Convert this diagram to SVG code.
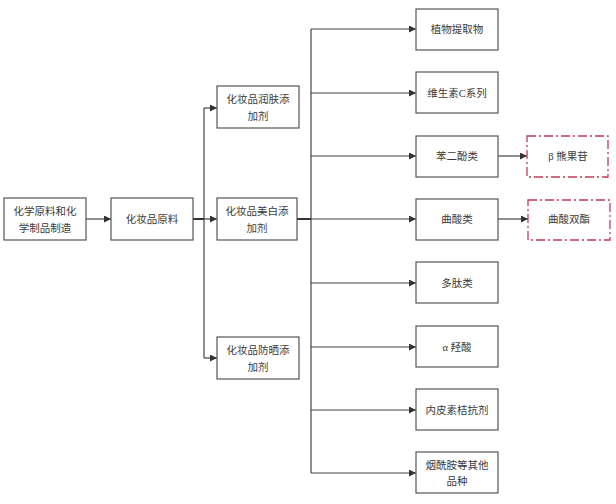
<svg xmlns="http://www.w3.org/2000/svg" width="616" height="504" viewBox="0 0 616 504">
<style>
.box{fill:#fff;stroke:#555;stroke-width:1.2}
.dbox{fill:#fff;stroke:#c23a55;stroke-width:1.3;stroke-dasharray:9,3,2,3}
.t{font-family:"Liberation Serif","Noto Sans CJK SC",serif;font-size:10.5px;fill:#3a3a3a;text-anchor:middle}
.ln{fill:none;stroke:#444;stroke-width:1.2}
.thick{fill:none;stroke:#333;stroke-width:2}
</style>
<defs>
<marker id="ar" viewBox="0 0 10 10" refX="10" refY="5" markerWidth="7" markerHeight="7" markerUnits="userSpaceOnUse" orient="auto">
<path d="M0,0 L10,5 L0,10 z" fill="#333"/>
</marker>
</defs>
<rect width="616" height="504" fill="#fff"/>
<g id="connectors">
<path class="ln" d="M86,219 H111" marker-end="url(#ar)"/>
<path class="thick" d="M193,219 H204"/>
<path class="ln" d="M204,108 V358"/>
<path class="ln" d="M204,108 H217" marker-end="url(#ar)"/>
<path class="ln" d="M204,219 H217" marker-end="url(#ar)"/>
<path class="ln" d="M204,358 H217" marker-end="url(#ar)"/>
<path class="thick" d="M297,219 H311"/>
<path class="ln" d="M311,29 V473"/>
<path class="ln" d="M311,29 H416" marker-end="url(#ar)"/>
<path class="ln" d="M311,93 H416" marker-end="url(#ar)"/>
<path class="ln" d="M311,156 H416" marker-end="url(#ar)"/>
<path class="ln" d="M311,219 H416" marker-end="url(#ar)"/>
<path class="ln" d="M311,283 H416" marker-end="url(#ar)"/>
<path class="ln" d="M311,347 H416" marker-end="url(#ar)"/>
<path class="ln" d="M311,410 H416" marker-end="url(#ar)"/>
<path class="ln" d="M311,473 H416" marker-end="url(#ar)"/>
<path class="ln" d="M498,156 H527" marker-end="url(#ar)"/>
<path class="ln" d="M498,219 H528" marker-end="url(#ar)"/>
</g>
<g id="n1"><rect class="box" x="4" y="198" width="82" height="42"/><text class="t" x="45" y="215">化学原料和化</text><text class="t" x="45" y="232">学制品制造</text></g>
<g id="n2"><rect class="box" x="111" y="198" width="82" height="42"/><text class="t" x="152" y="223">化妆品原料</text></g>
<g id="n3"><rect class="box" x="217" y="86" width="82" height="42"/><text class="t" x="258" y="103">化妆品润肤添</text><text class="t" x="258" y="120">加剂</text></g>
<g id="n4"><rect class="box" x="217" y="198" width="80" height="42"/><text class="t" x="257" y="215">化妆品美白添</text><text class="t" x="257" y="232">加剂</text></g>
<g id="n5"><rect class="box" x="217" y="337" width="82" height="42"/><text class="t" x="258" y="354">化妆品防晒添</text><text class="t" x="258" y="371">加剂</text></g>
<g id="r1"><rect class="box" x="416" y="9" width="82" height="41"/><text class="t" x="457" y="33">植物提取物</text></g>
<g id="r2"><rect class="box" x="416" y="72" width="82" height="41"/><text class="t" x="457" y="97">维生素C系列</text></g>
<g id="r3"><rect class="box" x="416" y="136" width="82" height="41"/><text class="t" x="457" y="160">苯二酚类</text></g>
<g id="r4"><rect class="box" x="416" y="199" width="82" height="41"/><text class="t" x="457" y="223">曲酸类</text></g>
<g id="r5"><rect class="box" x="416" y="262" width="82" height="41"/><text class="t" x="457" y="287">多肽类</text></g>
<g id="r6"><rect class="box" x="416" y="326" width="82" height="41"/><text class="t" x="457" y="351">α 羟酸</text></g>
<g id="r7"><rect class="box" x="416" y="389" width="82" height="41"/><text class="t" x="457" y="414">内皮素桔抗剂</text></g>
<g id="r8"><rect class="box" x="416" y="452" width="82" height="41"/><text class="t" x="457" y="469">烟酰胺等其他</text><text class="t" x="457" y="485">品种</text></g>
<g id="d1"><rect class="dbox" x="527" y="136" width="81" height="41"/><text class="t" x="568" y="160">β 熊果苷</text></g>
<g id="d2"><rect class="dbox" x="528" y="200" width="82" height="40"/><text class="t" x="569" y="223">曲酸双酯</text></g>
</svg>
